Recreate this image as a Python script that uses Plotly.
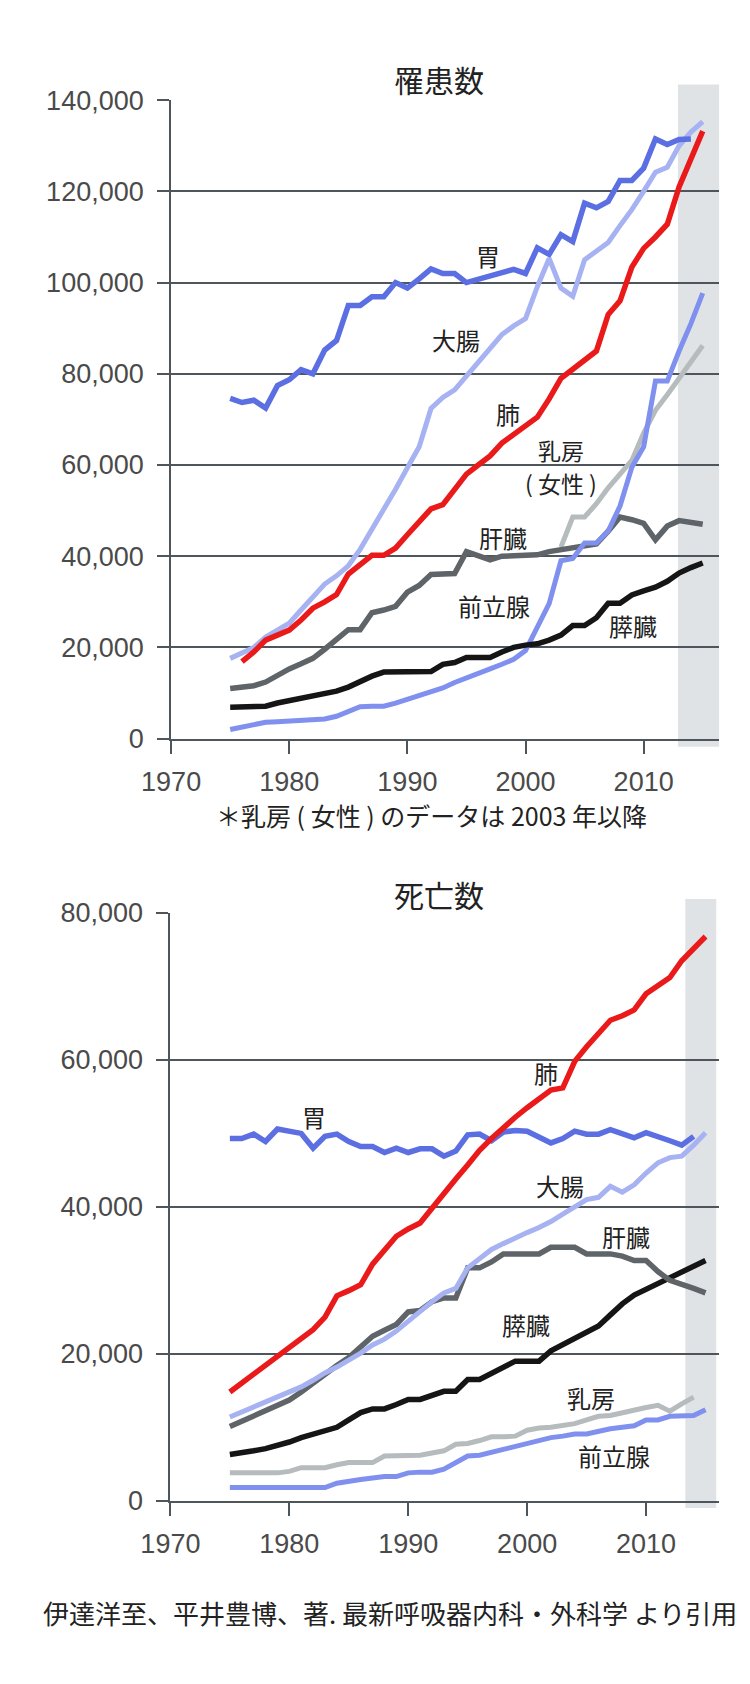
import plotly.graph_objects as go

# ---------------- DATA ----------------
years = list(range(1975, 2016))

# 罹患数 (incidence)
inc_stomach = [74600, 73700, 74200, 72500, 77400, 78700, 80900, 80000, 85200, 87300,
               95000, 95000, 96900, 96900, 100000, 98800, 100800, 103000, 102000, 102000,
               100000, 100700, 101400, 102100, 102900, 102000, 107600, 106200, 110500, 109000,
               117400, 116400, 117800, 122400, 122400, 125100, 131500, 130300, 131400, 131500, None]
inc_colon = [17600, 18700, 20000, 22300, 23900, 25300, 28200, 31100, 33900, 35700,
             37900, 41500, 45800, 50400, 54700, 59400, 64000, 72400, 74800, 76500,
             79500, 82500, 85500, 88600, 90500, 92100, 99100, 105300, 98800, 97000,
             105000, 107000, 108800, 112500, 116000, 120000, 124200, 125300, 130000, 133000, 135300]
inc_lung = [None, 16900, 19000, 21600, 22600, 23800, 26000, 28600, 30000, 31600,
            36100, 38200, 40200, 40200, 41800, 44700, 47500, 50400, 51300, 54500,
            58000, 60000, 62000, 64800, 66800, 68500, 70500, 74500, 79000, 81000,
            83000, 85000, 93000, 96000, 103400, 107500, 110000, 112800, 121000, 127000, 133200]
inc_breast = [None] * 28 + [42000, 48600, 48600, 51500, 55000, 58000, 61000, 67000,
                            72000, 75400, 79000, 82400, 86200]
inc_liver = [11000, 11200, 11600, 12400, 13900, 15300, 16400, 17600, 19600, 21700,
             23900, 23900, 27600, 28200, 29000, 32100, 33600, 36000, 36200, 36200,
             41000, 40000, 39200, 40000, 40200, 40200, 40300, 41000, 41500, 42000,
             42400, 42700, 45500, 48600, 48000, 47200, 43600, 46600, 47800, 47500, 47000]
inc_prostate = [2000, 2500, 3100, 3600, 3700, 3850, 4000, 4200, 4300, 4900,
                6000, 7000, 7100, 7100, 7800, 8600, 9600, 10400, 11100, 12300,
                13400, 14400, 15300, 16300, 17400, 19300, 24500, 29600, 39000, 39500,
                42900, 42900, 45500, 51000, 59500, 64000, 78400, 78400, 85000, 91000, 97700]
inc_pancreas = [6900, 6900, 6900, 7100, 7800, 8300, 8800, 9400, 9900, 10400,
                11300, 12600, 13700, 14600, 14600, 14600, 14600, 14700, 16300, 16700,
                17800, 17800, 17800, 19000, 20000, 20500, 20800, 21600, 22700, 24800,
                24800, 26500, 29700, 29700, 31500, 32400, 33200, 34500, 36300, 37500, 38500]

# 死亡数 (deaths)
dth_stomach = [49300, 49300, 49900, 48900, 50600, 50300, 50000, 48000, 49600, 49900,
               48900, 48200, 48200, 47400, 48000, 47400, 47900, 47900, 46900, 47600,
               49800, 49900, 49000, 50200, 50400, 50300, 49500, 48700, 49300, 50300,
               49900, 49900, 50500, 50000, 49400, 50100, 49600, 49000, 48400, 49600, None]
dth_lung = [14800, 16000, 17200, 18300, 19500, 20700, 22000, 23300, 25000, 27900,
            28600, 29400, 32200, 34200, 36000, 37000, 37800, 39800, 41900, 43800,
            45700, 47700, 49300, 50800, 52200, 53500, 54800, 55900, 56200, 59800,
            61800, 63700, 65400, 66000, 66800, 69000, 70200, 71200, 73500, 75200, 76800]
dth_colon = [11400, 12100, 12800, 13400, 14100, 14800, 15500, 16400, 17400, 18200,
             19100, 20100, 21200, 22000, 23100, 24500, 25900, 27100, 28300, 28900,
             31700, 33000, 34200, 35000, 35800, 36500, 37200, 38000, 39000, 40000,
             41000, 41300, 42800, 42000, 43000, 44600, 46000, 46700, 46900, 48400, 50100]
dth_liver = [10100, 10800, 11500, 12200, 12900, 13700, 14800, 16000, 17400, 18400,
             19500, 20900, 22400, 23200, 24000, 25700, 25900, 27100, 27600, 27600,
             31700, 31700, 32500, 33600, 33600, 33600, 33600, 34500, 34500, 34500,
             33600, 33600, 33600, 33300, 32700, 32700, 31200, 30000, 29500, 28900, 28300]
dth_pancreas = [6300, 6500, 6800, 7100, 7500, 8000, 8600, 9100, 9500, 10000,
                11000, 12000, 12500, 12500, 13100, 13800, 13800, 14400, 14900, 14900,
                16500, 16500, 17300, 18200, 19000, 19000, 19000, 20400, 21300, 22200,
                23000, 23800, 25300, 26800, 28000, 28800, 29500, 30300, 31100, 31900, 32700]
dth_breast = [3800, 3800, 3800, 3800, 3800, 4000, 4500, 4500, 4500, 4900,
              5200, 5200, 5200, 6100, 6100, 6100, 6200, 6500, 6800, 7700,
              7800, 8200, 8700, 8700, 8800, 9600, 9900, 10000, 10200, 10500,
              11000, 11500, 11600, 12000, 12400, 12700, 13000, 12200, 13200, 14100, None]
dth_prostate = [1800, 1800, 1800, 1800, 1800, 1800, 1800, 1800, 1800, 2400,
                2700, 2900, 3100, 3300, 3300, 3800, 3900, 3900, 4300, 5200,
                6100, 6200, 6600, 7000, 7500, 7900, 8200, 8600, 8800, 9100,
                9100, 9500, 9800, 10000, 10200, 11000, 11000, 11500, 11600, 11600, 12400]

x_ticks = [1970, 1980, 1990, 2000, 2010]
inc_ticks = [0, 20000, 40000, 60000, 80000, 100000, 120000, 140000]
dth_ticks = [0, 20000, 40000, 60000, 80000]

# ---------------- STYLE ----------------
C_STOMACH = "#5b6fe2"
C_COLON = "#a6b2f2"
C_LUNG = "#ea1a1a"
C_BREAST = "#b6bbbe"
C_LIVER = "#5e6468"
C_PROSTATE = "#8090ee"
C_PANCREAS = "#151515"
GRID = "#4e565b"
SHADE = "#dfe3e6"
TXT = "#222222"
TICKTXT = "#4a4a4a"
CJK = "Noto Sans CJK JP"
NUM = "Liberation Sans"

fig = go.Figure()

def add_line(xa, ya, y, color, width=5.5):
    fig.add_trace(go.Scatter(x=years, y=y, mode="lines", xaxis=xa, yaxis=ya,
                             line=dict(color=color, width=width), connectgaps=False,
                             showlegend=False, hoverinfo="skip"))

# top: incidence
for y, c, w in [(inc_colon, C_COLON, 5), (inc_breast, C_BREAST, 5), (inc_liver, C_LIVER, 5.5),
                (inc_prostate, C_PROSTATE, 5), (inc_pancreas, C_PANCREAS, 5.5),
                (inc_stomach, C_STOMACH, 5.5), (inc_lung, C_LUNG, 5.5)]:
    add_line("x", "y", y, c, w)

# bottom: deaths
for y, c, w in [(dth_breast, C_BREAST, 5), (dth_prostate, C_PROSTATE, 5),
                (dth_pancreas, C_PANCREAS, 5.5), (dth_liver, C_LIVER, 5.5),
                (dth_colon, C_COLON, 5), (dth_stomach, C_STOMACH, 5.5), (dth_lung, C_LUNG, 5.5)]:
    add_line("x2", "y2", y, c, w)

axis_common = dict(showgrid=False, zeroline=False, showline=True, linecolor=GRID, linewidth=2,
                   ticks="outside", ticklen=13, tickwidth=2, tickcolor=GRID,
                   tickfont=dict(family=NUM, size=27, color=TICKTXT), ticklabelstandoff=5)
yaxis_common = dict(showgrid=True, gridcolor=GRID, gridwidth=2, zeroline=False,
                    showline=True, linecolor=GRID, linewidth=2,
                    ticks="outside", ticklen=12, tickwidth=2, tickcolor=GRID,
                    tickformat=",", tickfont=dict(family=NUM, size=27, color=TICKTXT),
                    ticklabelstandoff=8)

fig.update_layout(
    width=750, height=1684, autosize=False,
    margin=dict(l=0, r=0, t=0, b=0),
    paper_bgcolor="white", plot_bgcolor="white",
    xaxis=dict(domain=[0.196, 0.9573], range=[1970, 2016.4], tickvals=x_ticks,
               anchor="y", **axis_common),
    yaxis=dict(domain=[0.5625, 0.9485], range=[0, 140000], tickvals=inc_ticks,
               anchor="x", **yaxis_common),
    xaxis2=dict(domain=[0.195, 0.9564], range=[1970, 2016.1], tickvals=x_ticks,
                anchor="y2", **axis_common),
    yaxis2=dict(domain=[0.1017, 0.4571], range=[0, 80000], tickvals=dth_ticks,
                anchor="x2", **yaxis_common),
)

# shaded recent-years bands
fig.add_shape(type="rect", xref="x", yref="paper", x0=2012.9, x1=2016.4, y0=0.5576, y1=0.958,
              fillcolor=SHADE, line_width=0, layer="below")
fig.add_shape(type="rect", xref="x2", yref="paper", x0=2013.3, x1=2015.9, y0=0.0974, y1=0.4656,
              fillcolor=SHADE, line_width=0, layer="below")

def label(text, x, y, xa, ya, size=24):
    fig.add_annotation(text=text, x=x, y=y, xref=xa, yref=ya, showarrow=False,
                       font=dict(family=CJK, size=size, color=TXT), borderpad=0)

# top labels
label("胃", 1996.8, 105900, "x", "y")
label("大腸", 1994.1, 87600, "x", "y")
label("肺", 1998.5, 71400, "x", "y")
label("乳房", 2003.0, 63300, "x", "y", 23)
label("( 女性 )", 2003.0, 56000, "x", "y", 23)
label("肝臓", 1998.1, 44200, "x", "y")
label("前立腺", 1997.3, 29100, "x", "y")
label("膵臓", 2009.1, 24800, "x", "y")

# bottom labels
label("胃", 1982.1, 52300, "x2", "y2")
label("肺", 2001.6, 58300, "x2", "y2")
label("大腸", 2002.8, 42900, "x2", "y2")
label("肝臓", 2008.3, 36000, "x2", "y2")
label("膵臓", 1999.9, 24000, "x2", "y2")
label("乳房", 2005.4, 14000, "x2", "y2")
label("前立腺", 2007.3, 6150, "x2", "y2")

# titles and notes
def ptext(text, x, y, size):
    fig.add_annotation(text=text, x=x, y=y, xref="paper", yref="paper", showarrow=False,
                       xanchor="center", yanchor="middle",
                       font=dict(family=CJK, size=size, color=TXT))

ptext("罹患数", 0.568, 0.9614, 30)
ptext("死亡数", 0.568, 0.4685, 30)
ptext("＊乳房 ( 女性 ) のデータは 2003 年以降", 0.558, 0.5165, 25)
ptext("伊達洋至、平井豊博、著. 最新呼吸器内科・外科学 より引用", 0.5, 0.034, 26)

fig.write_html("out.html", config={"displayModeBar": False},
               post_script="document.body.style.margin='0px';")
